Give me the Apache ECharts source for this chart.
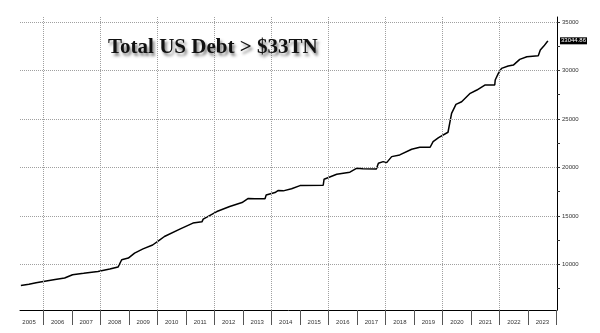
<!DOCTYPE html>
<html>
<head>
<meta charset="utf-8">
<script src="https://cdn.jsdelivr.net/npm/echarts@6/dist/echarts.min.js"></script>
<style>
  html, body { margin: 0; padding: 0; background: #fff; }
  #chart { width: 600px; height: 333px; }
</style>
</head>
<body>
<div id="chart"></div>
<script>
// Total US public debt outstanding, $ billions
const dates = [
  '2005-03-20', '2005-07-01', '2005-10-01', '2006-01-01', '2006-06-01',
  '2006-10-01', '2007-01-10', '2007-06-01', '2007-12-01', '2008-05-01',
  '2008-08-15', '2008-10-01', '2008-12-25', '2009-03-15', '2009-07-01',
  '2009-11-01', '2010-02-01', '2010-04-01', '2010-10-15', '2011-04-01',
  '2011-07-25', '2011-08-10', '2012-02-01', '2012-07-15', '2012-12-20',
  '2013-03-10', '2013-06-01', '2013-10-10', '2013-10-25', '2014-02-15',
  '2014-03-25', '2014-06-01', '2014-09-15', '2015-01-01', '2015-10-25',
  '2015-11-05', '2016-04-15', '2016-10-01', '2016-12-30', '2017-03-15',
  '2017-09-05', '2017-10-01', '2017-12-01', '2018-01-15', '2018-03-20',
  '2018-07-01', '2018-12-01', '2019-03-15', '2019-07-25', '2019-09-01',
  '2019-11-10', '2020-03-10', '2020-04-25', '2020-06-20', '2020-09-01',
  '2020-12-20', '2021-03-15', '2021-06-25', '2021-10-30', '2021-11-05',
  '2021-12-15', '2022-01-25', '2022-04-20', '2022-06-25', '2022-09-15',
  '2022-12-15', '2023-05-10', '2023-06-05', '2023-07-20', '2023-09-01',
  '2023-09-10'
];
const debt = [
  7835, 7950, 8100, 8246, 8450,
  8600, 8935, 9080, 9275, 9522,
  9728, 10478, 10650, 11168, 11600,
  12000, 12537, 12877, 13638, 14256,
  14389, 14667, 15449, 15963, 16375,
  16800, 16760, 16770, 17150, 17404,
  17610, 17580, 17800, 18124, 18160,
  18783, 19298, 19503, 19915, 19860,
  19843, 20430, 20594, 20490, 21108,
  21283, 21870, 22076, 22076, 22652,
  23064, 23620, 25574, 26500, 26768,
  27632, 27972, 28486, 28486, 29001,
  29690, 30205, 30442, 30545, 31131,
  31399, 31501, 32088, 32500, 32942,
  33044.86
];
const yearLabels = ['2005', '2006', '2007', '2008', '2009', '2010', '2011', '2012', '2013',
  '2014', '2015', '2016', '2017', '2018', '2019', '2020', '2021', '2022', '2023'];
const valueTicks = [10000, 15000, 20000, 25000, 30000, 35000];
const minorValueTicks = [7500, 10000, 12500, 15000, 17500, 20000, 22500, 25000, 27500, 30000, 32500, 35000];
const verticalGridYears = [2006, 2008, 2010, 2012, 2014, 2016, 2018, 2020, 2022];
const titleText = 'Total US Debt > $33TN';

// date string -> fractional year
function toYear(s) {
  const d = new Date(s + 'T00:00:00Z');
  const y = d.getUTCFullYear();
  const start = Date.UTC(y, 0, 1), end = Date.UTC(y + 1, 0, 1);
  return y + (d.getTime() - start) / (end - start);
}

const points = dates.map((d, i) => [toYear(d), debt[i]]);
const lastValue = debt[debt.length - 1];

const labelYears = yearLabels.map(y => Number(y) + 0.5);
const boundaryYears = yearLabels.map(y => Number(y) + 1);

const gridLine = { type: 'dotted', color: '#a0a0a0', width: 1 };

const markData = [];
verticalGridYears.forEach(y => markData.push({ xAxis: y, lineStyle: gridLine, label: { show: false } }));
valueTicks.forEach(v => markData.push({ yAxis: v, lineStyle: gridLine, label: { show: false } }));

const chart = echarts.init(document.getElementById('chart'), null, { renderer: 'canvas' });
chart.setOption({
  animation: false,
  backgroundColor: '#fff',
  title: {
    text: titleText,
    left: 103,
    top: 32,
    textStyle: {
      fontFamily: 'Liberation Serif',
      fontWeight: 'bold',
      fontSize: 21,
      color: '#111',
      textShadowColor: 'rgba(0,0,0,0.5)',
      textShadowBlur: 3,
      textShadowOffsetX: 2,
      textShadowOffsetY: 3
    }
  },
  grid: { left: 20, right: 43, top: 17, bottom: 23 },
  xAxis: {
    type: 'value',
    min: 2005.183,
    max: 2024.01,
    axisLine: { show: true, lineStyle: { color: '#000', width: 1 } },
    axisTick: {
      show: true,
      customValues: boundaryYears,
      length: 15,
      lineStyle: { color: '#555', width: 1 }
    },
    axisLabel: {
      customValues: labelYears,
      formatter: v => String(Math.floor(v)),
      fontFamily: 'Liberation Sans',
      fontSize: 6,
      color: '#333',
      margin: 9
    },
    splitLine: { show: false }
  },
  yAxis: {
    type: 'value',
    position: 'right',
    min: 5300,
    max: 35500,
    axisLine: { show: true, lineStyle: { color: '#000', width: 1 } },
    axisTick: {
      show: true,
      customValues: minorValueTicks,
      length: 3,
      lineStyle: { color: '#333' }
    },
    axisLabel: {
      customValues: valueTicks,
      formatter: v => String(v),
      fontFamily: 'Liberation Sans',
      fontSize: 6,
      color: '#333',
      margin: 5
    },
    splitLine: { show: false }
  },
  series: [{
    type: 'line',
    data: points,
    showSymbol: false,
    lineStyle: { color: '#000', width: 1.5 },
    markLine: {
      silent: true,
      symbol: ['none', 'none'],
      animation: false,
      data: markData
    }
  }, {
    // last value tag on the right-hand axis
    type: 'line',
    data: [],
    markLine: {
      silent: true,
      symbol: ['none', 'none'],
      animation: false,
      lineStyle: { color: 'rgba(0,0,0,0)', width: 0 },
      label: {
        show: true,
        position: 'end',
        formatter: lastValue.toFixed(2),
        backgroundColor: '#000',
        color: '#fff',
        fontFamily: 'Liberation Sans',
        fontSize: 6,
        padding: [1, 1, 0, 1],
        distance: 3
      },
      data: [{ yAxis: lastValue }]
    }
  }]
});
</script>
</body>
</html>
